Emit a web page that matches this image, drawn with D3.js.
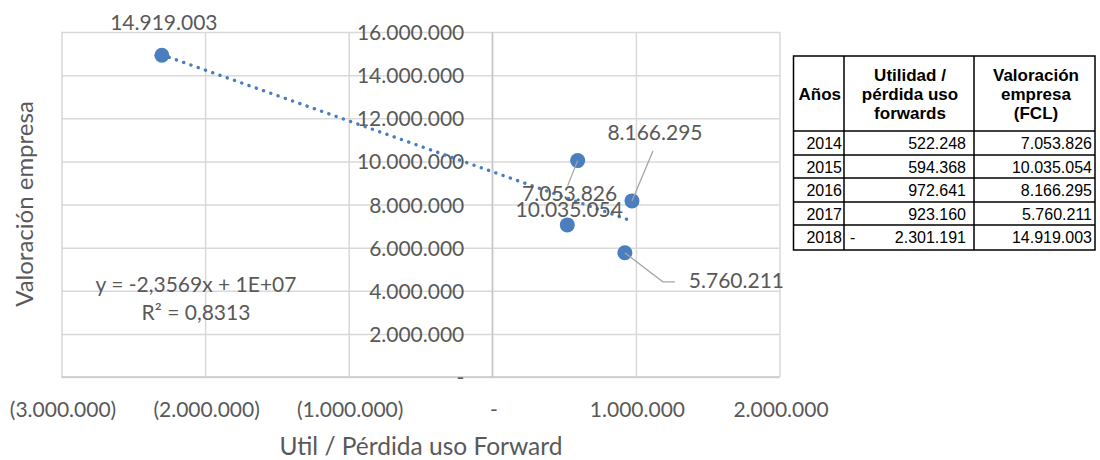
<!DOCTYPE html>
<html>
<head>
	<meta charset="UTF-8">
	<script src="https://d3js.org/d3.v7.min.js"></script>
	<style>
		body { margin: 0; background: #fff; }
		text { font-family: Lato, "Open Sans", sans-serif; fill: #595959; }
		.tbl text { font-family: "Liberation Sans", Arial, sans-serif; fill: #000; }
	</style>
</head>
<body>
	<svg width="1100" height="460"></svg>
	<script>
		// table / chart data
		var years = ["2014", "2015", "2016", "2017", "2018"];
		var utilidad = [522248, 594368, 972641, 923160, -2301191];
		var valoracion = [7053826, 10035054, 8166295, 5760211, 14919003];
		// data labels as Excel shows them (first two are swapped in the original)
		var labelValues = [10035054, 7053826, 8166295, 5760211, 14919003];

		var xTicks = [-3000000, -2000000, -1000000, 0, 1000000, 2000000];
		var yTicks = [0, 2000000, 4000000, 6000000, 8000000, 10000000, 12000000, 14000000, 16000000];

		var svg = d3.select("svg");
		var blue = "#4A7EBF";

		var loc = d3.formatLocale({ decimal: ",", thousands: ".", grouping: [3], currency: ["", ""], minus: "-" });
		var f = loc.format(",.0f");
		function acct(v) {
			if (v === 0) return "-";
			if (v < 0) return "(" + f(-v) + ")";
			return f(v);
		}

		var x = d3.scaleLinear().domain([-3000000, 2000000]).range([61.5, 779.5]);
		var y = d3.scaleLinear().domain([0, 16000000]).range([377, 32]);

		// gridlines
		svg.append("g")
			.attr("transform", "translate(61.5,0)")
			.call(d3.axisLeft(y).tickValues(yTicks).tickSize(-(779.5 - 61.5)).tickFormat(""))
			.call(g => g.select(".domain").remove())
			.call(g => g.selectAll("line").attr("stroke", "#D9D9D9").attr("stroke-width", 1.5));
		svg.append("g")
			.attr("transform", "translate(0,32)")
			.call(d3.axisBottom(x).tickValues(xTicks).tickSize(377 - 32).tickFormat(""))
			.call(g => g.select(".domain").remove())
			.call(g => g.selectAll("line").attr("stroke", "#D9D9D9").attr("stroke-width", 1.5));

		// axis lines
		svg.append("line").attr("x1", x(0)).attr("x2", x(0)).attr("y1", y(16000000)).attr("y2", y(0))
			.attr("stroke", "#C8C8C8").attr("stroke-width", 1.5);
		svg.append("line").attr("x1", x(-3000000)).attr("x2", x(2000000)).attr("y1", y(0)).attr("y2", y(0))
			.attr("stroke", "#C8C8C8").attr("stroke-width", 1.5);

		// tick labels
		svg.append("g")
			.attr("transform", "translate(" + x(0) + ",0)")
			.call(d3.axisLeft(y).tickValues(yTicks).tickSize(0).tickPadding(28).tickFormat(acct))
			.call(g => g.select(".domain").remove())
			.call(g => g.selectAll("text").attr("font-size", 21).attr("font-family", null).attr("fill", "#595959").attr("dy", "0.36em"));
		svg.append("g")
			.attr("transform", "translate(1," + y(0) + ")")
			.call(d3.axisBottom(x).tickValues(xTicks).tickSize(0).tickPadding(25).tickFormat(acct))
			.call(g => g.select(".domain").remove())
			.call(g => g.selectAll("text").attr("font-size", 21).attr("font-family", null).attr("fill", "#595959"));

		// axis titles
		svg.append("text").attr("x", 421).attr("y", 455).attr("text-anchor", "middle")
			.attr("font-size", 24.5).text("Util / Pérdida uso Forward");
		svg.append("text").attr("transform", "translate(33,204) rotate(-90)").attr("text-anchor", "middle")
			.attr("font-size", 24).text("Valoración empresa");

		// linear trendline
		var mx = d3.mean(utilidad), my = d3.mean(valoracion);
		var sxy = d3.sum(utilidad, (d, i) => (d - mx) * (valoracion[i] - my));
		var sxx = d3.sum(utilidad, d => (d - mx) * (d - mx));
		var slope = sxy / sxx, icpt = my - slope * mx;
		var x0 = d3.min(utilidad), x1 = d3.max(utilidad);
		svg.append("line")
			.attr("x1", x(x0)).attr("y1", y(icpt + slope * x0))
			.attr("x2", x(x1)).attr("y2", y(icpt + slope * x1))
			.attr("stroke", blue).attr("stroke-width", 3.4)
			.attr("stroke-linecap", "round").attr("stroke-dasharray", "0.1,7.6");

		// points
		var pts = years.map((yr, i) => ({ yr: yr, x: utilidad[i], y: valoracion[i], lab: labelValues[i] }));
		svg.append("g").selectAll("circle").data(pts).enter().append("circle")
			.attr("cx", d => x(d.x)).attr("cy", d => y(d.y)).attr("r", 7.5).attr("fill", blue);

		// data labels: [dx, dy, anchor, leader points]
		var labelPlace = [
			[2, -8, "middle", null],
			[-8, 40, "middle", [[0, 0], [-10, 25]]],
			[23, -61, "middle", [[0, 0], [21, -50]]],
			[64, 35, "start", [[0, 0], [38, 29], [50, 29]]],
			[2, -25, "middle", null]
		];
		pts.forEach(function (d, i) {
			var p = labelPlace[i], px = x(d.x), py = y(d.y);
			if (p[3]) {
				svg.append("polyline")
					.attr("points", p[3].map(q => (px + q[0]) + "," + (py + q[1])).join(" "))
					.attr("fill", "none").attr("stroke", "#A6A6A6").attr("stroke-width", 1.3);
			}
			svg.append("text").attr("x", px + p[0]).attr("y", py + p[1])
				.attr("text-anchor", p[2]).attr("font-size", 21).attr("fill", "#404040").text(acct(d.lab));
		});

		// equation
		svg.append("text").attr("x", 196).attr("y", 292).attr("text-anchor", "middle").attr("font-size", 21)
			.text("y = " + loc.format(".4f")(slope) + "x + 1E+07");
		svg.append("text").attr("x", 196).attr("y", 320).attr("text-anchor", "middle").attr("font-size", 21)
			.text("R² = 0,8313");

		// table
		var tb = svg.append("g").attr("class", "tbl");
		var colX = [793.5, 844, 974, 1095];
		var rowY = [56, 131, 155, 178, 202, 225, 250];
		tb.append("rect").attr("x", colX[0]).attr("y", rowY[0]).attr("width", colX[3] - colX[0]).attr("height", rowY[6] - rowY[0])
			.attr("fill", "none").attr("stroke", "#000").attr("stroke-width", 1.5);
		colX.slice(1, 3).forEach(cx => tb.append("line").attr("x1", cx).attr("x2", cx).attr("y1", rowY[0]).attr("y2", rowY[6])
			.attr("stroke", "#000").attr("stroke-width", 1.5));
		rowY.slice(1, 6).forEach(ry => tb.append("line").attr("x1", colX[0]).attr("x2", colX[3]).attr("y1", ry).attr("y2", ry)
			.attr("stroke", "#000").attr("stroke-width", 1.5));

		var head2 = ["Utilidad /", "pérdida uso", "forwards"];
		var head3 = ["Valoración", "empresa", "(FCL)"];
		tb.append("text").attr("x", (colX[0] + colX[1]) / 2 + 1).attr("y", 100).attr("text-anchor", "middle")
			.attr("font-size", 17).attr("font-weight", "bold").text("Años");
		head2.forEach((t, i) => tb.append("text").attr("x", 910).attr("y", 81 + i * 19).attr("text-anchor", "middle")
			.attr("font-size", 17).attr("font-weight", "bold").text(t));
		head3.forEach((t, i) => tb.append("text").attr("x", 1036).attr("y", 81 + i * 19).attr("text-anchor", "middle")
			.attr("font-size", 17).attr("font-weight", "bold").text(t));

		years.forEach(function (yr, i) {
			var by = rowY[i + 1] + 18;
			tb.append("text").attr("x", colX[1] - 2).attr("y", by).attr("text-anchor", "end").attr("font-size", 16).text(yr);
			var u = utilidad[i];
			if (u < 0) tb.append("text").attr("x", colX[1] + 6).attr("y", by).attr("font-size", 16).text("-");
			tb.append("text").attr("x", colX[2] - 8).attr("y", by).attr("text-anchor", "end").attr("font-size", 16).text(f(Math.abs(u)));
			tb.append("text").attr("x", colX[3] - 3).attr("y", by).attr("text-anchor", "end").attr("font-size", 16).text(f(valoracion[i]));
		});
	</script>
</body>
</html>
